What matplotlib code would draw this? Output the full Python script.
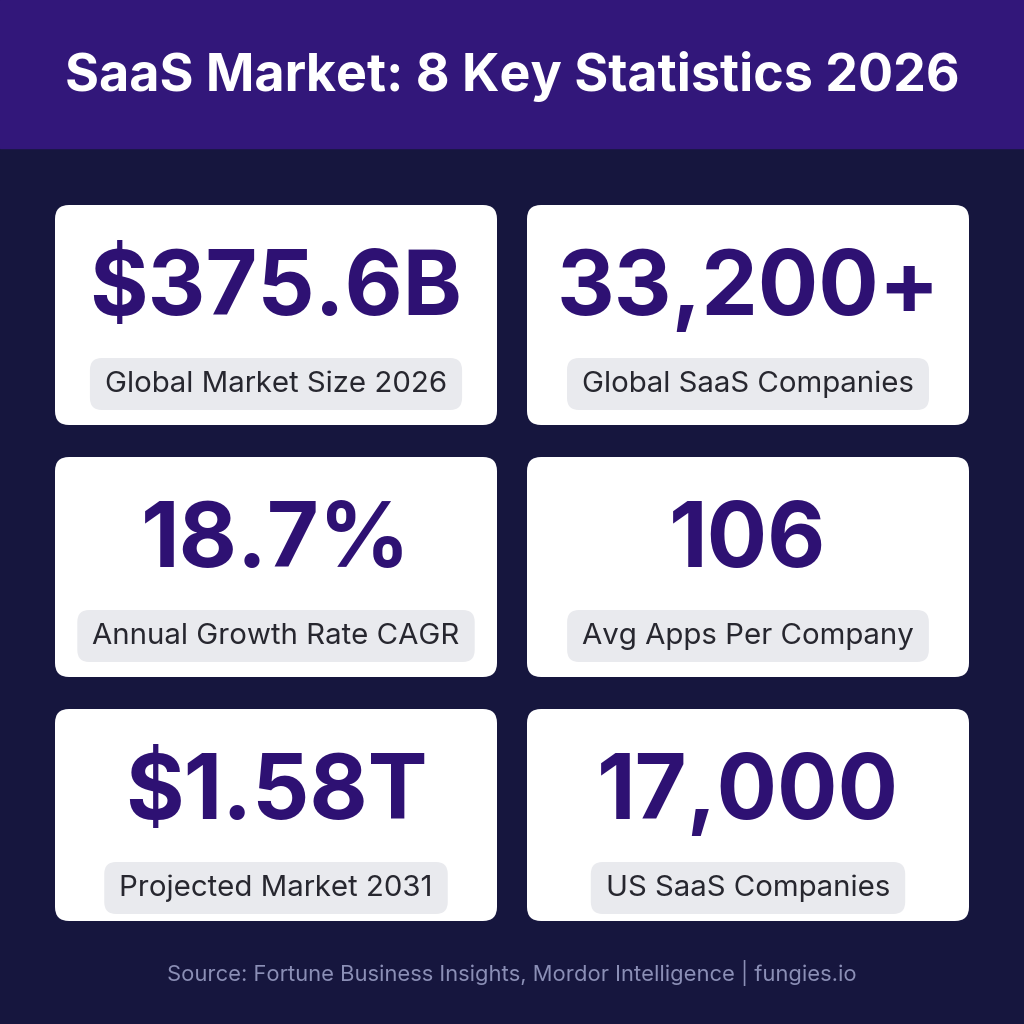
import matplotlib
matplotlib.use("Agg")
import matplotlib.pyplot as plt
from matplotlib.patches import FancyBboxPatch, Rectangle

values = ["$375.6B", "33,200+", "18.7%", "106", "$1.58T", "17,000"]
labels = ["Global Market Size 2026", "Global SaaS Companies",
          "Annual Growth Rate CAGR", "Avg Apps Per Company",
          "Projected Market 2031", "US SaaS Companies"]
title = "SaaS Market: 8 Key Statistics 2026"
source = "Source: Fortune Business Insights, Mordor Intelligence | fungies.io"

bg = "#16163e"
header = "#32177a"
purple = "#2e1173"
pill = "#e9eaee"

fig = plt.figure(figsize=(10.24, 10.24), dpi=100, facecolor=bg)
ax = fig.add_axes([0, 0, 1, 1])
ax.set_xlim(0, 1024)
ax.set_ylim(1024, 0)
ax.axis("off")

ax.add_patch(Rectangle((0, 0), 1024, 148, color=header, zorder=1))
ax.text(512, 76, title, ha="center", va="center", color="white",
        fontsize=37.5, fontweight="bold", family="Inter", zorder=3)

col_x = [55, 527]
row_y = [205, 457, 709]
row_h = [220, 220, 212]
card_w = 442

fig.canvas.draw()
renderer = fig.canvas.get_renderer()
inv = ax.transData.inverted()

for i, (val, lab) in enumerate(zip(values, labels)):
    r, c = divmod(i, 2)
    x0, y0, h = col_x[c], row_y[r], row_h[r]
    cx = x0 + card_w / 2
    ax.add_patch(FancyBboxPatch((x0 + 14, y0 + 14), card_w - 28, h - 28,
                                boxstyle="round,pad=14", fc="white", ec="none", zorder=2))
    ax.text(cx, y0 + 86, val, ha="center", va="center", color=purple,
            fontsize=64.5, fontweight="bold", family="Inter", zorder=3)
    t = ax.text(cx, y0 + 179, lab, ha="center", va="center",
                color="#27272f", fontsize=21.2, family="Inter", zorder=4)
    bb = t.get_window_extent(renderer)
    (a, _), (b, _) = inv.transform([(bb.x0, 0), (bb.x1, 0)])
    w = abs(b - a) + 30
    py = t.get_position()[1]
    ax.add_patch(FancyBboxPatch((cx - w / 2 + 12, py - 26 + 12), w - 24, 52 - 24,
                                boxstyle="round,pad=12", fc=pill, ec="none", zorder=3))

ax.text(512, 973, source, ha="center", va="center", color="#8b8fb6",
        fontsize=15.8, family="Inter", zorder=3)

fig.savefig("out.png", dpi=100, facecolor=bg)
